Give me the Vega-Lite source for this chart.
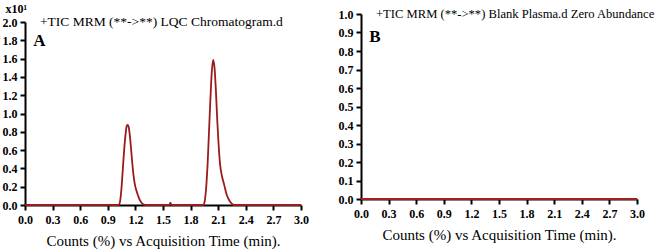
{
  "$schema": "https://vega.github.io/schema/vega-lite/v6.json",
  "background": "white",
  "padding": {"left": 2, "top": 2, "right": 2, "bottom": 2},
  "spacing": 29,
  "config": {
    "view": {"stroke": null},
    "font": "Liberation Serif",
    "axis": {
      "domainColor": "black", "domainWidth": 2, "tickColor": "black", "tickWidth": 2, "tickSize": 5,
      "labelFont": "Liberation Serif", "labelFontWeight": "bold", "labelFontSize": 12, "labelColor": "black",
      "titleFont": "Liberation Serif", "titleFontWeight": "normal", "titleFontSize": 15, "titleColor": "black",
      "grid": false, "labelOverlap": false, "labelFlush": false, "tickCount": 30
    }
  },
  "datasets": {
    "lqc": [
      {"t": 0, "v": 0}, {"t": 1.02, "v": 0}, {"t": 1.035, "v": 0.05}, {"t": 1.05, "v": 0.2}, {"t": 1.065, "v": 0.42},
      {"t": 1.08, "v": 0.63}, {"t": 1.095, "v": 0.79}, {"t": 1.105, "v": 0.86}, {"t": 1.115, "v": 0.875}, {"t": 1.125, "v": 0.86},
      {"t": 1.135, "v": 0.8}, {"t": 1.15, "v": 0.65}, {"t": 1.165, "v": 0.47}, {"t": 1.18, "v": 0.32}, {"t": 1.195, "v": 0.22},
      {"t": 1.21, "v": 0.16}, {"t": 1.23, "v": 0.1}, {"t": 1.25, "v": 0.05}, {"t": 1.27, "v": 0.02}, {"t": 1.29, "v": 0.005},
      {"t": 1.31, "v": 0}, {"t": 1.57, "v": 0}, {"t": 1.58, "v": 0.025}, {"t": 1.59, "v": 0}, {"t": 1.94, "v": 0},
      {"t": 1.955, "v": 0.05}, {"t": 1.97, "v": 0.2}, {"t": 1.985, "v": 0.45}, {"t": 2.0, "v": 0.8}, {"t": 2.015, "v": 1.15},
      {"t": 2.03, "v": 1.45}, {"t": 2.045, "v": 1.585}, {"t": 2.06, "v": 1.5}, {"t": 2.075, "v": 1.25}, {"t": 2.09, "v": 0.92},
      {"t": 2.105, "v": 0.65}, {"t": 2.12, "v": 0.45}, {"t": 2.14, "v": 0.32}, {"t": 2.165, "v": 0.22}, {"t": 2.19, "v": 0.12},
      {"t": 2.21, "v": 0.07}, {"t": 2.23, "v": 0.035}, {"t": 2.25, "v": 0.012}, {"t": 2.27, "v": 0}, {"t": 3.0, "v": 0}
    ],
    "blank": [{"t": 0, "v": 0}, {"t": 3.0, "v": 0}],
    "labA": [{"t": 0.09, "v": 1.79, "txt": "A"}],
    "capA": [{"t": 0.163, "v": 2.0, "txt": "+TIC MRM (**->**) LQC Chromatogram.d"}],
    "labB": [{"t": 0.09, "v": 0.876, "txt": "B"}],
    "capB": [{"t": 0.163, "v": 1.0, "txt": "+TIC MRM (**->**) Blank Plasma.d Zero Abundance"}]
  },
  "hconcat": [
    {
      "width": 276, "height": 191,
      "layer": [
        {
          "data": {"name": "lqc"},
          "mark": {"type": "line", "color": "#9b1b1b", "strokeWidth": 1.8, "interpolate": "monotone"},
          "encoding": {
            "x": {"field": "t", "type": "quantitative", "scale": {"domain": [0, 3]},
              "axis": {"values": [0, 0.3, 0.6, 0.9, 1.2, 1.5, 1.8, 2.1, 2.4, 2.7, 3.0], "format": ".1f", "title": "Counts (%) vs Acquisition Time (min).", "labelPadding": 4, "titlePadding": 8}},
            "y": {"field": "v", "type": "quantitative", "scale": {"domain": [0, 2], "range": [191, 8]},
              "axis": {"values": [0, 0.2, 0.4, 0.6, 0.8, 1.0, 1.2, 1.4, 1.6, 1.8, 2.0], "format": ".1f", "labelPadding": 3,
                "title": "x10¹", "titleAngle": 0, "titleX": -20, "titleY": -6, "titleAlign": "left", "titleBaseline": "middle", "titleFontWeight": "bold", "titleFontSize": 12}}
          }
        },
        {
          "data": {"name": "capA"},
          "mark": {"type": "text", "align": "left", "baseline": "middle", "fontSize": 13.5, "color": "black"},
          "encoding": {"x": {"field": "t", "type": "quantitative"}, "y": {"field": "v", "type": "quantitative"}, "text": {"field": "txt"}}
        },
        {
          "data": {"name": "labA"},
          "mark": {"type": "text", "align": "left", "baseline": "middle", "fontSize": 17, "fontWeight": "bold", "color": "black"},
          "encoding": {"x": {"field": "t", "type": "quantitative"}, "y": {"field": "v", "type": "quantitative"}, "text": {"field": "txt"}}
        }
      ]
    },
    {
      "width": 276, "height": 185,
      "layer": [
        {
          "data": {"name": "blank"},
          "mark": {"type": "line", "color": "#a51f1f", "strokeWidth": 1.8},
          "encoding": {
            "x": {"field": "t", "type": "quantitative", "scale": {"domain": [0, 3]},
              "axis": {"values": [0, 0.3, 0.6, 0.9, 1.2, 1.5, 1.8, 2.1, 2.4, 2.7, 3.0], "format": ".1f", "title": "Counts (%) vs Acquisition Time (min).", "labelPadding": 4, "titlePadding": 8}},
            "y": {"field": "v", "type": "quantitative", "scale": {"domain": [0, 1]},
              "axis": {"values": [0, 0.1, 0.2, 0.3, 0.4, 0.5, 0.6, 0.7, 0.8, 0.9, 1.0], "format": ".1f", "labelPadding": 3, "title": null}}
          }
        },
        {
          "data": {"name": "capB"},
          "mark": {"type": "text", "align": "left", "baseline": "middle", "fontSize": 12.6, "color": "black"},
          "encoding": {"x": {"field": "t", "type": "quantitative"}, "y": {"field": "v", "type": "quantitative"}, "text": {"field": "txt"}}
        },
        {
          "data": {"name": "labB"},
          "mark": {"type": "text", "align": "left", "baseline": "middle", "fontSize": 17, "fontWeight": "bold", "color": "black"},
          "encoding": {"x": {"field": "t", "type": "quantitative"}, "y": {"field": "v", "type": "quantitative"}, "text": {"field": "txt"}}
        }
      ]
    }
  ]
}
